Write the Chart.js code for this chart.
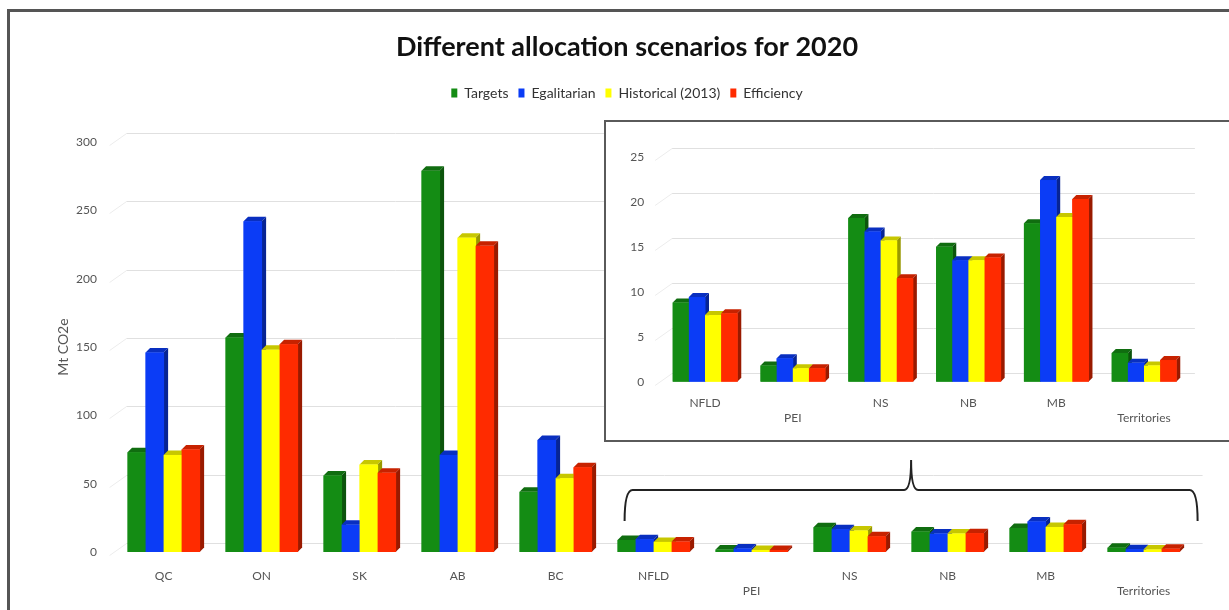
<!DOCTYPE html>
<html>
<head>
<meta charset="utf-8">
<script src="https://cdn.jsdelivr.net/npm/chart.js@4.4.1/dist/chart.umd.min.js"></script>
<style>
html,body{margin:0;padding:0;width:1229px;height:610px;overflow:hidden;background:#fff;}
#main{position:absolute;left:0;top:0;}
#insetBox{position:absolute;left:604px;top:120px;width:680px;height:318px;border:2px solid #5a5a5a;background:#fff;}
#inset{position:absolute;left:0;top:0;}
#frame{position:absolute;left:7px;top:9px;width:1300px;height:700px;border:3px solid #555;box-sizing:border-box;pointer-events:none;}
</style>
</head>
<body>
<canvas id="main" width="1229" height="610"></canvas>
<div id="insetBox"><canvas id="inset" width="623" height="318"></canvas></div>
<div id="frame"></div>
<script>
// ---------- data ----------
const categories = ['QC','ON','SK','AB','BC','NFLD','PEI','NS','NB','MB','Territories'];
const insetCategories = ['NFLD','PEI','NS','NB','MB','Territories'];
const seriesNames = ['Targets','Egalitarian','Historical (2013)','Efficiency'];
const targets     = [73, 157, 56, 279, 44, 8.8, 1.8, 18.2, 15.0, 17.6, 3.2];
const egalitarian = [146, 242, 20, 71, 82, 9.4, 2.6, 16.7, 13.5, 22.4, 2.1];
const historical  = [71, 148, 64, 230, 54, 7.4, 1.5, 15.7, 13.5, 18.3, 1.8];
const efficiency  = [75, 152, 58, 224, 62, 7.6, 1.5, 11.5, 13.8, 20.3, 2.4];
const mainTicks = [0, 50, 100, 150, 200, 250, 300];
const insetTicks = [0, 5, 10, 15, 20, 25];
const lowerRowLabels = ['PEI', 'Territories'];

// ---------- styles ----------
const seriesColors = ['#148c14', '#0b3cf6', '#ffff00', '#ff2b00'];
const FONT = 'Lato, "Open Sans", sans-serif';
const TEXT = '#555555';

function shade(hex, f) {
  const n = parseInt(hex.slice(1), 16);
  const r = (n >> 16) & 255, g = (n >> 8) & 255, b = n & 255;
  return `rgb(${Math.round(r * f)},${Math.round(g * f)},${Math.round(b * f)})`;
}
const tickLabel = c => lowerRowLabels.includes(c) ? ['', c] : c;
const allSeries = [targets, egalitarian, historical, efficiency];

function makeDatasets(start) {
  return seriesNames.map((name, i) => ({
    label: name,
    data: allSeries[i].slice(start),
    backgroundColor: seriesColors[i],
    borderWidth: 0,
    barPercentage: 1,
    categoryPercentage: 0.735
  }));
}

// 3D bars + back-wall gridlines
const bar3d = {
  id: 'bar3d',
  beforeDatasetsDraw(chart, args, o) {
    const ctx = chart.ctx, ys = chart.scales.y, a = chart.chartArea;
    ctx.save();
    ctx.lineWidth = 1;
    ys.ticks.forEach(t => {
      const y = Math.round(ys.getPixelForValue(t.value)) + 0.5;
      ctx.strokeStyle = '#ececec';
      ctx.beginPath();
      ctx.moveTo(a.left + o.fx, y + o.fy);
      ctx.lineTo(a.left + o.bx, y + o.by);
      ctx.stroke();
      ctx.strokeStyle = '#e0e0e0';
      ctx.beginPath();
      ctx.moveTo(a.left + o.bx, y + o.by);
      ctx.lineTo(a.right + o.ext, y + o.by);
      ctx.stroke();
    });
    ctx.restore();
  },
  afterDatasetsDraw(chart, args, o) {
    const ctx = chart.ctx, d = o.depth;
    const n = chart.data.labels.length;
    ctx.save();
    for (let i = 0; i < n; i++) {
      chart.data.datasets.forEach((ds, di) => {
        const el = chart.getDatasetMeta(di).data[i];
        const p = el.getProps(['x', 'y', 'base', 'width'], true);
        const l = p.x - p.width / 2, r = p.x + p.width / 2;
        const col = ds.backgroundColor;
        ctx.fillStyle = shade(col, 0.78);
        ctx.beginPath();
        ctx.moveTo(l, p.y); ctx.lineTo(l + d, p.y - d); ctx.lineTo(r + d, p.y - d); ctx.lineTo(r, p.y);
        ctx.closePath(); ctx.fill();
        ctx.fillStyle = shade(col, 0.6);
        ctx.beginPath();
        ctx.moveTo(r, p.y); ctx.lineTo(r + d, p.y - d); ctx.lineTo(r + d, p.base - d); ctx.lineTo(r, p.base);
        ctx.closePath(); ctx.fill();
        ctx.fillStyle = col;
        ctx.fillRect(l, p.y, p.width + 0.5, p.base - p.y);
      });
    }
    ctx.restore();
  }
};

const legendGap = {
  id: 'legendGap',
  beforeInit(chart, args, o) {
    if (!chart.legend) return;
    const fit = chart.legend.fit;
    chart.legend.fit = function () { fit.call(this); this.height += o.gap; };
  }
};

const bracket = {
  id: 'bracket',
  afterDraw(chart) {
    const ctx = chart.ctx, xs = chart.scales.x;
    const left = xs.getPixelForValue(5) - 29;
    const right = xs.getPixelForValue(10) + 54;
    const mid = (left + right) / 2;
    const yBar = 490, yEnd = 521, yPeak = 460;
    ctx.save();
    ctx.strokeStyle = '#222';
    ctx.lineWidth = 2;
    ctx.beginPath();
    ctx.moveTo(left, yEnd);
    ctx.quadraticCurveTo(left, yBar, left + 8, yBar);
    ctx.lineTo(mid - 7, yBar);
    ctx.quadraticCurveTo(mid, yBar, mid, yPeak);
    ctx.quadraticCurveTo(mid, yBar, mid + 7, yBar);
    ctx.lineTo(right - 8, yBar);
    ctx.quadraticCurveTo(right, yBar, right, yEnd);
    ctx.stroke();
    ctx.restore();
  }
};

Chart.defaults.font.family = FONT;
Chart.defaults.color = TEXT;

new Chart(document.getElementById('main'), {
  type: 'bar',
  data: { labels: categories.map(tickLabel), datasets: makeDatasets(0) },
  plugins: [bar3d, legendGap, bracket],
  options: {
    responsive: false, animation: false, devicePixelRatio: 1,
    layout: { padding: { left: 61.4, right: 36.4, top: 0, bottom: 0 } },
    plugins: {
      title: { display: true, text: 'Different allocation scenarios for 2020', color: '#111',
        font: { family: FONT, size: 27, weight: 'bold' }, padding: { top: 30.8, bottom: 12.8 } },
      legend: { display: true, position: 'top',
        labels: { boxWidth: 6, boxHeight: 9, padding: 10, color: '#333', font: { family: FONT, size: 14 } } },
      tooltip: { enabled: false },
      legendGap: { gap: 32 },
      bar3d: { depth: 4.5, fx: -5, fy: 3, bx: 12, by: -9, ext: 10 }
    },
    scales: {
      x: {
        grid: { display: false, drawTicks: false }, border: { display: false },
        ticks: { autoSkip: false, maxRotation: 0, padding: 17, font: { size: 12, lineHeight: 1.25 } },
        afterFit(s) { s.height = 58; }
      },
      y: {
        min: 0, max: 300,
        afterBuildTicks(s) { s.ticks = mainTicks.map(v => ({ value: v })); },
        grid: { display: false, drawTicks: false }, border: { display: false },
        ticks: { padding: 17.6, font: { size: 12 } },
        title: { display: true, text: 'Mt CO2e', font: { size: 14 }, padding: { top: -6.4, bottom: 0 } },
        afterFit(s) { s.width = 53.2; }
      }
    }
  }
});

new Chart(document.getElementById('inset'), {
  type: 'bar',
  data: { labels: insetCategories.map(tickLabel), datasets: makeDatasets(5) },
  plugins: [bar3d],
  options: {
    responsive: false, animation: false, devicePixelRatio: 1,
    layout: { padding: { left: 10, right: 41.1, top: 34.7, bottom: 0 } },
    plugins: {
      title: { display: false }, legend: { display: false }, tooltip: { enabled: false },
      bar3d: { depth: 4, fx: -6, fy: 3, bx: 11, by: -9, ext: 7 }
    },
    scales: {
      x: {
        grid: { display: false, drawTicks: false }, border: { display: false },
        ticks: { autoSkip: false, maxRotation: 0, padding: 14, font: { size: 12, lineHeight: 1.25 } },
        afterFit(s) { s.height = 58.3; }
      },
      y: {
        min: 0, max: 25,
        afterBuildTicks(s) { s.ticks = insetTicks.map(v => ({ value: v })); },
        grid: { display: false, drawTicks: false }, border: { display: false },
        ticks: { padding: 17, font: { size: 12 } },
        afterFit(s) { s.width = 45.1; }
      }
    }
  }
});
</script>
</body>
</html>
